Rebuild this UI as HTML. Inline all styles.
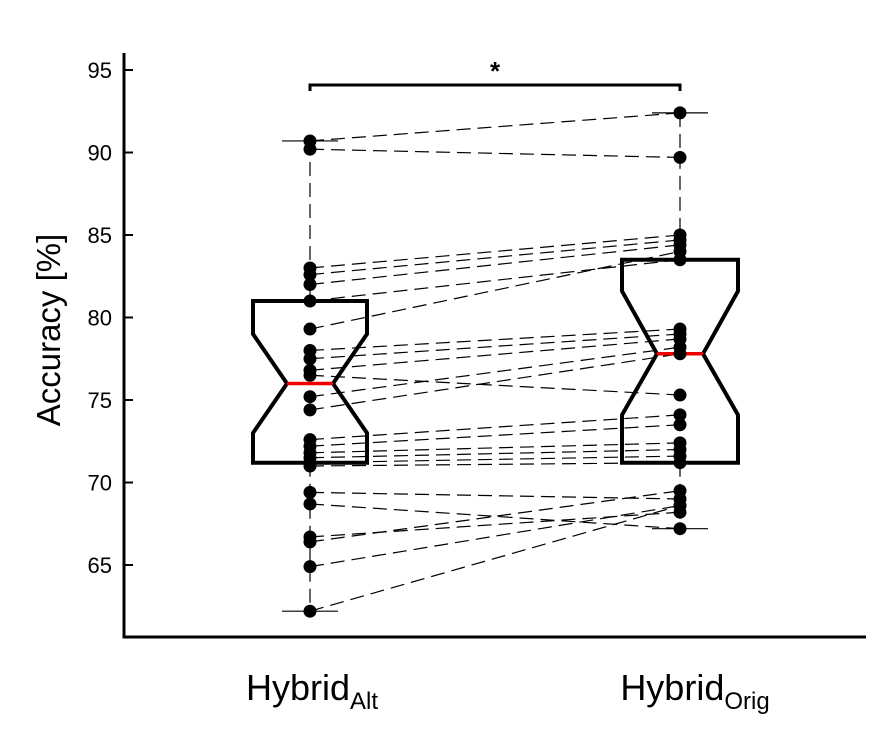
<!DOCTYPE html>
<html><head><meta charset="utf-8"><style>
body{margin:0;background:#fff}
svg{display:block;font-family:"Liberation Sans",Arial,sans-serif}
</style></head><body>
<svg id="chart" width="879" height="733">
<g id="axes"></g>
<g id="lines"></g>
<g id="boxes"></g>
<g id="dots"></g>
<text x="60" y="330" font-size="33" text-anchor="middle" transform="rotate(-90 60 330)">Accuracy [%]</text>
<text x="312" y="700" font-size="36" text-anchor="middle">Hybrid<tspan font-size="24" dy="9">Alt</tspan></text>
<text x="695" y="700" font-size="36" text-anchor="middle">Hybrid<tspan font-size="24" dy="9">Orig</tspan></text>
</svg>
<script>
const categories=["HybridAlt","HybridOrig"];
const altValues=[90.7,90.2,83.0,82.6,82.0,81.0,79.3,78.0,77.5,76.8,76.5,75.2,74.4,72.6,72.2,71.8,71.5,71.2,69.4,68.7,66.7,66.4,64.9,62.2,71.0];
const origValues=[92.4,89.7,85.0,84.7,84.4,83.5,84.0,79.3,79.0,78.7,75.3,78.2,77.8,74.1,73.5,72.4,72.0,71.6,69.0,67.2,68.2,69.5,68.6,68.6,71.2];
const altBox={lo:62.2,q1:71.2,med:76.0,q3:81.0,hi:90.7,nlo:73.0,nhi:79.0};
const origBox={lo:67.2,q1:71.2,med:77.8,q3:83.5,hi:92.4,nlo:74.1,nhi:81.6};
const yTicks=[65,70,75,80,85,90,95];
const NS="http://www.w3.org/2000/svg";
const y=v=>70+(95-v)*16.5;
const xs=[310,680];
function mk(tag,attrs,parent){const e=document.createElementNS(NS,tag);for(const k in attrs)e.setAttribute(k,attrs[k]);parent.appendChild(e);return e;}
const axes=document.getElementById('axes');
let a=mk('path',{d:'M124,53V637H866',fill:'none',stroke:'#000','stroke-width':3},axes);


yTicks.forEach(t=>{
 const l=mk('line',{x1:124,x2:133,y1:y(t),y2:y(t),stroke:'#000','stroke-width':2},axes);
 
 
 const tx=mk('text',{x:112,y:y(t)+8,'font-size':22,'text-anchor':'end'},axes);
 tx.textContent=t;
 
 
});
const br=mk('path',{d:`M${xs[0]},91V85H${xs[1]}V91`,fill:'none',stroke:'#000','stroke-width':3},axes);


const st=mk('text',{x:(xs[0]+xs[1])/2,y:80,'font-size':26,'font-weight':'bold','text-anchor':'middle'},axes);
st.textContent='*';


const lines=document.getElementById('lines');
altValues.forEach((v,i)=>{
 const l=mk('line',{x1:xs[0],y1:y(v),x2:xs[1],y2:y(origValues[i]),stroke:'#000','stroke-width':1.2,'stroke-dasharray':'14 7'},lines);
 
 
});
const boxes=document.getElementById('boxes');
function box(b,cx,hw,nw){
 const g=mk('g',{},boxes);
 
 
 mk('line',{x1:cx,x2:cx,y1:y(b.hi),y2:y(b.q3),stroke:'#000','stroke-width':1.2,'stroke-dasharray':'14 7'},g);
 mk('line',{x1:cx,x2:cx,y1:y(b.q1),y2:y(b.lo),stroke:'#000','stroke-width':1.2,'stroke-dasharray':'14 7'},g);
 mk('line',{x1:cx-28,x2:cx+28,y1:y(b.hi),y2:y(b.hi),stroke:'#000','stroke-width':1.2},g);
 mk('line',{x1:cx-28,x2:cx+28,y1:y(b.lo),y2:y(b.lo),stroke:'#000','stroke-width':1.2},g);
 const d=`M${cx-hw},${y(b.q3)}H${cx+hw}V${y(b.nhi)}L${cx+nw},${y(b.med)}L${cx+hw},${y(b.nlo)}V${y(b.q1)}H${cx-hw}V${y(b.nlo)}L${cx-nw},${y(b.med)}L${cx-hw},${y(b.nhi)}Z`;
 mk('path',{d,fill:'none',stroke:'#000','stroke-width':4,'stroke-linejoin':'miter'},g);
 mk('line',{x1:cx-nw,x2:cx+nw,y1:y(b.med),y2:y(b.med),stroke:'#e00','stroke-width':3.5},g);
}
box(altBox,xs[0],57,23);
box(origBox,xs[1],58,23);
const dots=document.getElementById('dots');
[altValues,origValues].forEach((arr,k)=>arr.forEach(v=>{
 const c=mk('circle',{cx:xs[k],cy:y(v),r:6.5,fill:'#000'},dots);
 
 
}));
</script>
</body></html>
